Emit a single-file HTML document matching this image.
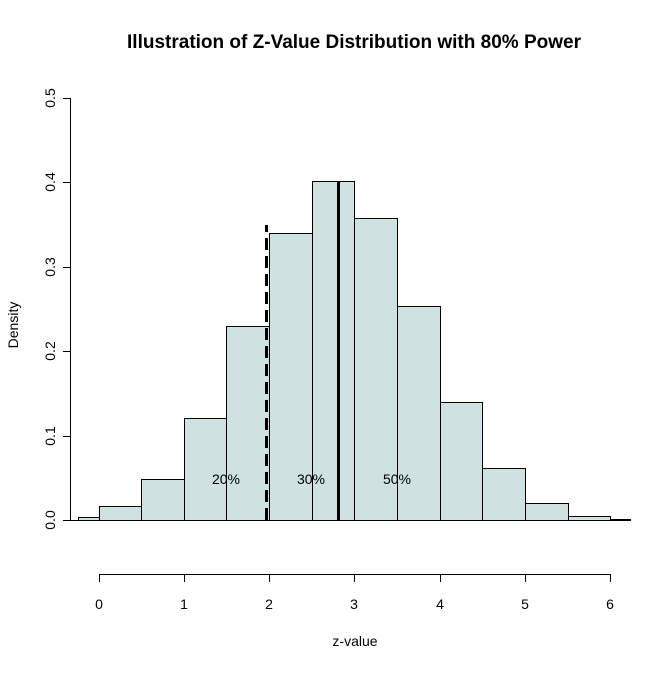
<!DOCTYPE html>
<html><head><style>body{margin:0;background:#fff}</style></head><body>
<svg width="672" height="671" xmlns="http://www.w3.org/2000/svg" font-family="Liberation Sans, Arial, sans-serif">
<rect width="672" height="671" fill="#fff"/>
<text x="354" y="48" font-size="19" font-weight="bold" text-anchor="middle">Illustration of Z-Value Distribution with 80% Power</text>
<g stroke="#000" stroke-width="1" fill="#CFE1E0">
<rect x="78.5" y="517.5" width="21" height="3"/>
<rect x="99.5" y="506.5" width="42" height="14"/>
<rect x="141.5" y="479.5" width="43" height="41"/>
<rect x="184.5" y="418.5" width="42" height="102"/>
<rect x="226.5" y="326.5" width="43" height="194"/>
<rect x="269.5" y="233.5" width="43" height="287"/>
<rect x="312.5" y="181.5" width="42" height="339"/>
<rect x="354.5" y="218.5" width="43" height="302"/>
<rect x="397.5" y="306.5" width="43" height="214"/>
<rect x="440.5" y="402.5" width="42" height="118"/>
<rect x="482.5" y="468.5" width="43" height="52"/>
<rect x="525.5" y="503.5" width="43" height="17"/>
<rect x="568.5" y="516.5" width="42" height="4"/>
<path d="M610.5 519.5 H631" fill="none"/>
</g>
<line x1="63" y1="520.5" x2="631" y2="520.5" stroke="#000"/>
<line x1="266.5" y1="520" x2="266.5" y2="225" stroke="#000" stroke-width="3" stroke-dasharray="12,6"/>
<line x1="338.5" y1="520" x2="338.5" y2="181" stroke="#000" stroke-width="3"/>
<g font-size="14" text-anchor="middle">
<text x="226" y="484">20%</text><text x="311" y="484">30%</text><text x="397" y="484">50%</text>
</g>
<g stroke="#000">
<line x1="70.5" y1="98" x2="70.5" y2="520"/>
<line x1="63" y1="98.5" x2="70" y2="98.5"/><line x1="63" y1="182.5" x2="70" y2="182.5"/>
<line x1="63" y1="267.5" x2="70" y2="267.5"/><line x1="63" y1="351.5" x2="70" y2="351.5"/>
<line x1="63" y1="436.5" x2="70" y2="436.5"/>
<line x1="99" y1="574.5" x2="611" y2="574.5"/>
<line x1="99.5" y1="574" x2="99.5" y2="582"/><line x1="184.5" y1="574" x2="184.5" y2="582"/>
<line x1="269.5" y1="574" x2="269.5" y2="582"/><line x1="354.5" y1="574" x2="354.5" y2="582"/>
<line x1="440.5" y1="574" x2="440.5" y2="582"/><line x1="525.5" y1="574" x2="525.5" y2="582"/>
<line x1="610.5" y1="574" x2="610.5" y2="582"/>
</g>
<g font-size="14" text-anchor="middle">
<text x="99" y="609">0</text><text x="184" y="609">1</text><text x="269" y="609">2</text><text x="354" y="609">3</text><text x="440" y="609">4</text><text x="525" y="609">5</text><text x="610" y="609">6</text>
<text x="355" y="646">z-value</text>
<g transform="translate(55,0)">
<text transform="translate(0,520) rotate(-90)">0.0</text>
<text transform="translate(0,436) rotate(-90)">0.1</text>
<text transform="translate(0,351) rotate(-90)">0.2</text>
<text transform="translate(0,267) rotate(-90)">0.3</text>
<text transform="translate(0,182) rotate(-90)">0.4</text>
<text transform="translate(0,98) rotate(-90)">0.5</text>
</g>
<text transform="translate(18,325) rotate(-90)">Density</text>
</g>
</svg>
</body></html>
